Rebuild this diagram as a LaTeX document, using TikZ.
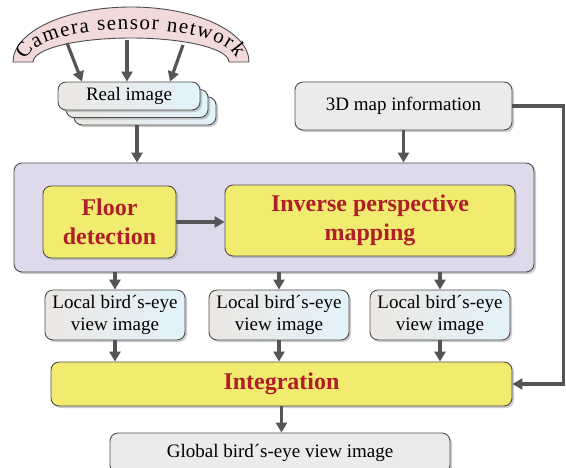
\documentclass[tikz,border=0pt]{standalone}
\usepackage{fontspec}
\setmainfont{Liberation Serif}
\usetikzlibrary{arrows.meta,shadows,decorations.text}

\definecolor{boxedge}{HTML}{4D4D4D}
\definecolor{arrowgray}{HTML}{555555}
\definecolor{camfill}{HTML}{F2DADA}
\definecolor{procfill}{HTML}{DEDAEC}
\definecolor{keyfill}{HTML}{F1EB70}
\definecolor{keytext}{HTML}{B01E28}
\definecolor{plainfill}{HTML}{EBEBEB}
\definecolor{imgleft}{HTML}{EBE7E3}
\definecolor{imgright}{HTML}{E2F3FB}

\tikzset{
  box/.style={draw=boxedge, line width=0.9pt, rounded corners=8pt,
    drop shadow={shadow xshift=2pt, shadow yshift=-2pt, fill=black!40},
    align=center, inner sep=0pt, font=\fontsize{19}{22}\selectfont},
  plainbox/.style={box, fill=plainfill},
  imgbox/.style={box, left color=imgleft, right color=imgright},
  keybox/.style={box, fill=keyfill, text=keytext,
    font=\bfseries\fontsize{24}{29}\selectfont},
  flow/.style={draw=arrowgray, line width=3.2pt, -{Triangle[length=10pt,width=11pt]}},
}

\begin{document}
\begin{tikzpicture}[x=1pt,y=-1pt]
    \useasboundingbox (0,0) rectangle (566,467);

    % camera sensor network arch
    \filldraw[draw=boxedge, line width=0.9pt, fill=camfill]
        (13,62) arc[start angle=180, end angle=0, x radius=118pt, y radius=55pt]
        -- (229,62) arc[start angle=0, end angle=180, x radius=98pt, y radius=24pt] -- cycle;
    \path[decorate, decoration={text along path, text align=fit to path,
        text={|\fontsize{21}{21}\selectfont|Camera sensor network}}]
        (26.3,60.2) arc[start angle=178, end angle=5, x radius=105pt, y radius=32pt];
    \coordinate (cam1) at (67,43);
    \coordinate (cam2) at (127,40);
    \coordinate (cam3) at (183,45);

    \node[imgbox, minimum width=142pt, minimum height=28pt] (stack3) at (145,111) {};
    \node[imgbox, minimum width=142pt, minimum height=28pt] (stack2) at (137,103.5) {};
    \node[imgbox, minimum width=142pt, minimum height=28pt] (real)   at (129,96) {Real image};

    \node[plainbox, minimum width=217pt, minimum height=48pt] (map) at (403.5,106) {3D map information};

    \node[box, fill=procfill, minimum width=520pt, minimum height=109pt] (proc) at (274,217.5) {};
    \node[keybox, minimum width=133pt, minimum height=72pt] (floor) at (109.5,222) {Floor\\detection};
    \node[keybox, minimum width=290pt, minimum height=71pt] (ipm) at (370,220.5) {Inverse perspective\\mapping};

    \foreach \i/\x in {1/115,2/279,3/440}
        \node[imgbox, minimum width=140pt, minimum height=50pt] (local\i) at (\x,315) {Local bird´s-eye\\view image};

    \node[keybox, minimum width=461pt, minimum height=44pt] (integ) at (281.5,384) {Integration};
    \node[plainbox, minimum width=340pt, minimum height=40pt] (global) at (280,453) {Global bird´s-eye view image};

    % Now draw the arrows:
    \draw[flow] (cam1) -- ([xshift=-47pt]real.north);
    \draw[flow] (cam2) -- ([xshift=-2pt]real.north);
    \draw[flow] (cam3) -- ([xshift=41pt]real.north);
    \draw[flow] (stack2.south |- stack3.south) -- (stack2.south |- proc.north);
    \draw[flow] (map.south) -- (map.south |- proc.north);
    \draw[flow] (floor.east) -- (floor.east -| ipm.west);
    \foreach \i in {1,2,3} {
        \draw[flow] (local\i.north |- proc.south) -- (local\i.north);
        \draw[flow] (local\i.south) -- (local\i.south |- integ.north);
    }
    \draw[flow] (integ.south) -- (integ.south |- global.north);
    \draw[flow] (map.east) -- ++(51,0) |- (integ.east);
\end{tikzpicture}
\end{document}
